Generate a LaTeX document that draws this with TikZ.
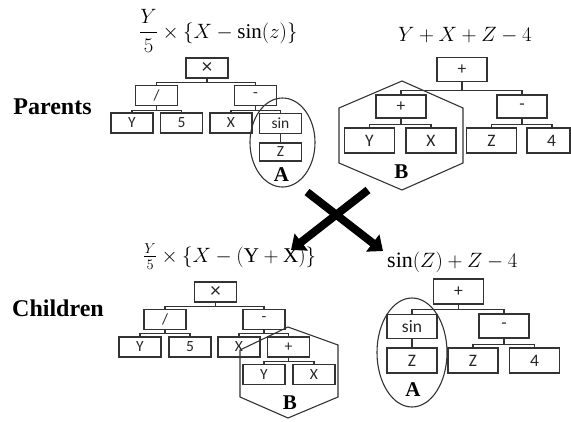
\documentclass[tikz,border=0pt]{standalone}
\usepackage{amsmath}
\usepackage{fontspec}
\setmainfont{Liberation Serif}
\newfontfamily\boxfont{Carlito}
\usetikzlibrary{arrows.meta,calc}
\begin{document}
\begin{tikzpicture}[x=1pt,y=-1pt,
  bx/.style={draw=black!80, line width=1.1pt, inner sep=0pt, text=black!85},
  sm/.style={bx, minimum width=42pt, minimum height=20pt, font=\boxfont\fontsize{15.5}{15.5}\selectfont},
  lg/.style={bx, minimum width=50pt, minimum height=24pt, font=\boxfont\fontsize{17.5}{17.5}\selectfont},
  edge/.style={draw=black!80, line width=1.1pt},
  lab/.style={font=\bfseries\fontsize{24}{24}\selectfont, inner sep=0pt},
  tag/.style={font=\bfseries\fontsize{21}{21}\selectfont, inner sep=0pt},
  frm/.style={font=\fontsize{21}{21}\selectfont, inner sep=0pt, anchor=base west},
  cross/.style={line width=8pt, -{Triangle[length=13pt,width=21pt]}}
]
\useasboundingbox (0,0) rectangle (571,421);

% labels
\node[lab] (lp) at (52.5,107) {Parents};
\node[lab] (lc) at (58,308) {Children};

% formulas
\node[frm] (f1) at (139,38) {$\dfrac{Y}{5}\times\{X-\sin(z)\}$};
\node[frm, font=\fontsize{22}{22}\selectfont] (f2) at (398,41) {$Y+X+Z-4$};
\node[frm] (f3) at (143,262) {$\tfrac{Y}{5}\times\{X-(\mathrm{Y}+\mathrm{X})\}$};
\node[frm, font=\fontsize{22}{22}\selectfont] (f4) at (387,267) {$\sin(Z)+Z-4$};

% parent left tree
\node[sm] (pm) at (207,68) {\fontsize{21}{21}\selectfont ×};
\node[sm] (pd) at (156.5,95.5) {/};
\node[sm] (ps) at (255.5,95.5) {-};
\node[sm] (py) at (132,123) {Y};
\node[sm] (p5) at (181.5,123) {5};
\node[sm] (px) at (231,123) {X};
\node[sm] (psin) at (280.5,123.5) {sin};
\node[sm, minimum height=18pt] (pz) at (280.5,152) {Z};
\draw[edge] (pm.south) -- ++(0,3.5) -| (pd.north);
\draw[edge] (pm.south) ++(0,3.5) -| (ps.north);
\draw[edge] (pd.south) -- ++(0,4) -| (py.north);
\draw[edge] (pd.south) ++(0,4) -| (p5.north);
\draw[edge] (ps.south) -- ++(0,4) -| (px.north);
\draw[edge] (ps.south) ++(0,4) -| (psin.north);
\draw[edge] (psin) -- (pz);
\draw[edge] (282.5pt,-142.5pt) ellipse [x radius=32.5pt, y radius=44.5pt];
\node[tag] (pa) at (281.5,175) {A};

% parent right tree
\node[lg] (qp) at (462,69.5) {+};
\node[lg, minimum height=23pt] (qp2) at (401,106.5) {+};
\node[lg, minimum height=23pt] (qm) at (522,106.5) {-};
\node[lg, minimum height=25pt] (qy) at (369.5,140.5) {Y};
\node[lg, minimum height=25pt] (qx) at (431,140.5) {X};
\node[lg, minimum height=25pt] (qz) at (491.5,140.5) {Z};
\node[lg, minimum height=25pt, minimum width=43pt] (q4) at (548.5,140.5) {\hspace*{6pt}4};
\draw[edge] (qp.south) -- ++(0,8) -| (qp2.north);
\draw[edge] (qp.south) ++(0,8) -| (qm.north);
\draw[edge] (qp2.south) -- ++(0,6) -| (qy.north);
\draw[edge] (qp2.south) ++(0,6) -| (qx.north);
\draw[edge] (qm.south) -- ++(0,6) -| (qz.north);
\draw[edge] (qm.south) ++(0,6) -| ($(q4.north)+(3.5,0)$);
\draw[edge] (402,81) -- (463,108) -- (463,163) -- (402,190) -- (339,163) -- (339,108) -- cycle;
\node[tag] (pb) at (401.5,172) {B};

% cross arrows
\coordinate (a1s) at (368,190);
\coordinate (a1e) at (291,250);
\coordinate (a2s) at (307,192);
\coordinate (a2e) at (383,251);
\draw[cross] (a1s) -- (a1e);
\draw[cross] (a2s) -- (a2e);

% children left tree
\node[sm] (cm) at (215.5,292) {\fontsize{21}{21}\selectfont ×};
\node[sm] (cd) at (165,319.5) {/};
\node[sm] (cs) at (264,319.5) {-};
\node[sm] (cy) at (140,347) {Y};
\node[sm] (c5) at (190,347) {5};
\node[sm] (cx) at (239,347) {X};
\node[sm] (cp) at (288.5,347) {+};
\node[sm] (cy2) at (264,374.5) {Y};
\node[sm] (cx2) at (314,374.5) {X};
\draw[edge] (cm.south) -- ++(0,4) -| (cd.north);
\draw[edge] (cm.south) ++(0,4) -| (cs.north);
\draw[edge] (cd.south) -- ++(0,3.5) -| (cy.north);
\draw[edge] (cd.south) ++(0,3.5) -| (c5.north);
\draw[edge] (cs.south) -- ++(0,3.5) -| (cx.north);
\draw[edge] (cs.south) ++(0,3.5) -| (cp.north);
\draw[edge] (cp.south) -- ++(0,4) -| (cy2.north);
\draw[edge] (cp.south) ++(0,4) -| (cx2.north);
\draw[edge] (288,327) -- (338,345) -- (338,397) -- (288,418) -- (240,397) -- (240,350) -- cycle;
\node[tag] (cb) at (290,403) {B};

% children right tree
\node[lg, minimum height=25pt] (dp) at (458.5,291.5) {+};
\node[lg] (dsin) at (412,326.5) {sin};
\node[lg] (dm) at (504,326) {-};
\node[lg, minimum height=25pt] (dz1) at (412,360.5) {Z};
\node[lg, minimum height=25pt] (dz2) at (473,360.5) {Z};
\node[lg, minimum height=25pt] (d4) at (534.5,360.5) {4};
\draw[edge] (dp.south) -- ++(0,5) -| (dsin.north);
\draw[edge] (dp.south) ++(0,5) -| (dm.north);
\draw[edge] (dm.south) -- ++(0,6) -| (dz2.north);
\draw[edge] (dm.south) ++(0,6) -| (d4.north);
\draw[edge] (dsin) -- (dz1);
\draw[edge] (412pt,-352.5pt) ellipse [x radius=35pt, y radius=54.5pt];
\node[tag] (da) at (413,390) {A};
\end{tikzpicture}
\end{document}
